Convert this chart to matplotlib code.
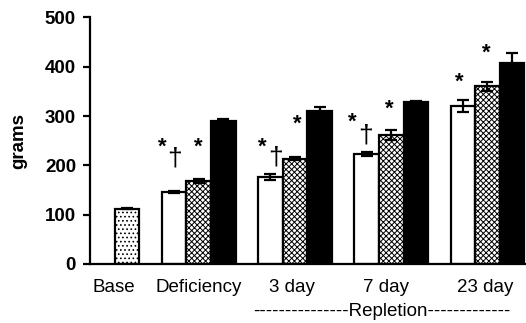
import numpy as np
import matplotlib
matplotlib.use("Agg")
import matplotlib.pyplot as plt

plt.rcParams['font.family'] = ['Liberation Sans', 'DejaVu Sans']
plt.rcParams['hatch.linewidth'] = 0.7

# body weight (grams) per diet group, mean and SEM
groups = ["Base", "Deficiency", "3 day", "7 day", "23 day"]
base_val = 112
base_err = 1
white_val = [145, 177, 222, 320]
white_err = [2, 6, 4, 12]
hatch_val = [168, 213, 261, 360]
hatch_err = [4, 3, 10, 10]
black_val = [290, 310, 328, 407]
black_err = [4, 8, 3, 20]

# significance marks: (group, offset from group centre, symbol, y)
marks = [
    (1, -0.38, "*", 237), (1, -0.255, "\u2020", 213), (1, 0.0, "*", 237),
    (2, -0.34, "*", 237), (2, -0.20, "\u2020", 215), (2, 0.02, "*", 284),
    (3, -0.40, "*", 288), (3, -0.27, "\u2020", 260), (3, -0.02, "*", 314),
    (4, -0.29, "*", 369), (4, -0.01, "*", 428),
]

w = 0.255
fig = plt.figure(figsize=(5.26, 3.23), dpi=100)
ax = fig.add_axes([0.171, 0.183, 0.829, 0.763])

x = np.arange(1, 5)
ekw = dict(ecolor="black", elinewidth=1.6, capsize=4.5, capthick=1.6)
ax.bar(0 + w, base_val, w, yerr=base_err, color="white", edgecolor="black",
       linewidth=1.6, hatch="....", error_kw=ekw, zorder=2)
ax.bar(x - w, white_val, w, yerr=white_err, color="white", edgecolor="black",
       linewidth=1.6, error_kw=ekw, zorder=2)
ax.bar(x, hatch_val, w, yerr=hatch_err, color="white", edgecolor="black",
       linewidth=1.6, hatch="xxxxxx", error_kw=ekw, zorder=2)
ax.bar(x + w, black_val, w, yerr=black_err, color="black", edgecolor="black",
       linewidth=1.6, error_kw=ekw, zorder=2)

for g, dx, sym, yy in marks:
    if sym == "*":
        ax.text(g + dx, yy, sym, ha="center", va="center", fontsize=16,
                fontweight="bold")
    else:
        ax.text(g + dx, yy, sym, ha="center", va="center", fontsize=19)

ax.set_xlim(-0.13, 4.40)
ax.set_ylim(0, 500)
ax.set_yticks([0, 100, 200, 300, 400, 500])
ax.set_xticks([0.12, 1, 1.97, 2.95, 3.98])
ax.set_xticklabels(groups, fontsize=13.5)
ax.tick_params(axis="x", length=0, pad=11)
ax.tick_params(axis="y", length=5, width=1.6, direction="out", labelsize=13.5, pad=5)
for t in ax.get_yticklabels():
    t.set_fontweight("bold")

for s in ["top", "right"]:
    ax.spines[s].set_visible(False)
ax.spines["left"].set_linewidth(1.6)
ax.spines["bottom"].set_linewidth(1.6)

fig.text(19 / 526, 1 - 141.5 / 323, "grams", rotation=90, ha="center",
         va="center", fontsize=13.5, fontweight="bold")
fig.text(382 / 526, 1 - 311.7 / 323, "-" * 15 + "Repletion" + "-" * 13,
         ha="center", va="center", fontsize=13.5)

fig.savefig("out.png", dpi=100)
